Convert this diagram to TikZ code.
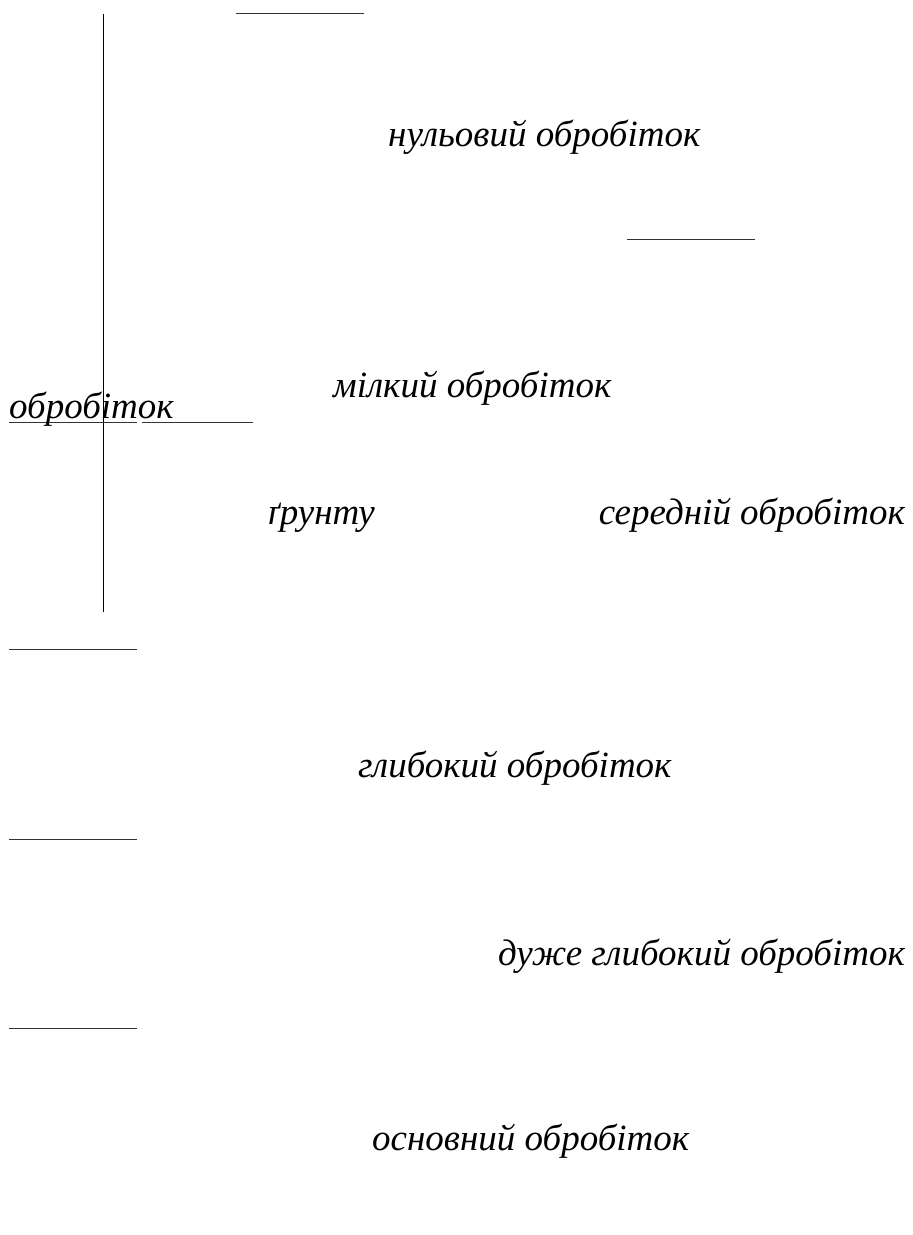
\documentclass[tikz,border=0pt]{standalone}
\usepackage{fontspec}
\setmainfont{Liberation Serif}
\usepackage{tikz}
\usetikzlibrary{calc}
\tikzset{lbl/.style={anchor=base west, inner sep=0, font=\fontsize{37}{42}\selectfont\itshape},
 lblr/.style={lbl, anchor=base east}}

\begin{document}
\begin{tikzpicture}[x=1pt,y=-1pt]
\useasboundingbox[fill=white] (0,0) rectangle (913,1235);
\draw[black, line width=.8] (103,14)--(103,612);
\draw[black!80, line width=.8] (236,13)--(364,13);
\draw[black!80, line width=.8] (627,239)--(755,239);
\draw[black!80, line width=.8] (9,422)--(137,422);
\draw[black!80, line width=.8] (142,422)--(253,422);
\foreach \y in {649,839,1028} {
 \draw[black!80, line width=.8] (9,\y)--(137,\y);
}

\node[lbl] (nul) at (388,146) {нульовий обробіток};
\node[lbl] (milk) at (333,397) {мілкий обробіток};
\node[lbl] (obr) at (9,418) {обробіток};
\node[lbl] (grunt) at (268,524) {ґрунту};
\node[lblr] (sered) at (905,524) {середній обробіток};
\node[lbl] (glyb) at (358,777) {глибокий обробіток};
\node[lblr] (duzhe) at (905,965) {дуже глибокий обробіток};
\node[lbl] (osn) at (372,1150) {основний обробіток};
\end{tikzpicture}
\end{document}
